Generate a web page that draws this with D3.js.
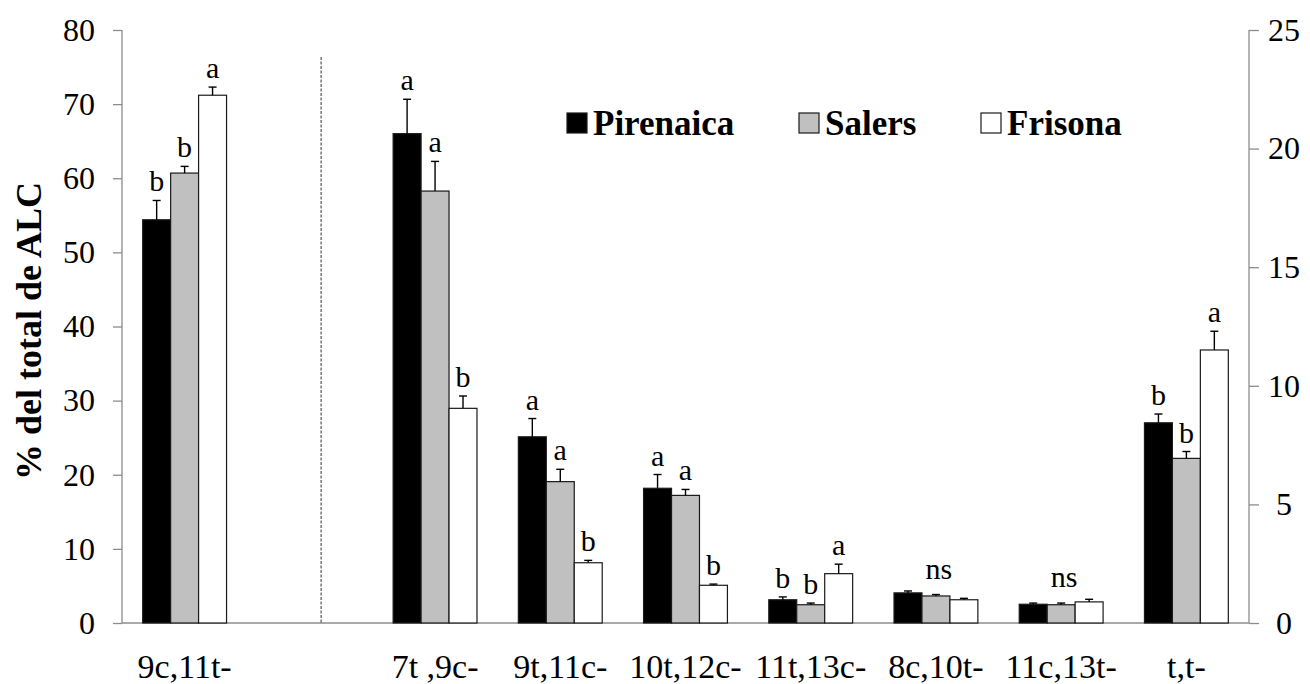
<!DOCTYPE html>
<html>
<head>
<meta charset="utf-8">
<script src="https://cdn.jsdelivr.net/npm/d3@7"></script>
<style>
  html, body { margin: 0; padding: 0; background: #fff; }
  svg, svg text { font-family: "Liberation Serif", "Tinos", "Times New Roman", "DejaVu Serif", "Noto Serif", serif !important; }
</style>
</head>
<body>
<svg id="chart" width="1310" height="684"></svg>
<script>
// ---- Data ----
const categories = ["9c,11t-", "7t ,9c-", "9t,11c-", "10t,12c-", "11t,13c-", "8c,10t-", "11c,13t-", "t,t-"];
const leftAxisCategories = ["9c,11t-"];
const seriesNames = ["Pirenaica", "Salers", "Frisona"];
const pirenaica    = [54.4, 20.63, 7.85, 5.68, 0.98, 1.27, 0.79, 8.44];
const pirenaicaErr = [2.6, 1.45, 0.77, 0.58, 0.12, 0.08, 0.05, 0.37];
const salers       = [60.7, 18.21, 5.96, 5.38, 0.77, 1.14, 0.77, 6.94];
const salersErr    = [0.9, 1.25, 0.52, 0.25, 0.07, 0.06, 0.07, 0.29];
const frisona      = [71.2, 9.05, 2.54, 1.59, 2.08, 0.98, 0.89, 11.51];
const frisonaErr   = [1.1, 0.52, 0.10, 0.05, 0.40, 0.06, 0.11, 0.79];
const pirenaicaLetters = ["b", "a", "a", "a", "b", "", "", "b"];
const salersLetters    = ["b", "a", "a", "a", "b", "", "", "b"];
const frisonaLetters   = ["a", "b", "b", "b", "a", "", "", "a"];
const groupLetters     = ["", "", "", "", "", "ns", "ns", ""];
const leftTicks = [0, 10, 20, 30, 40, 50, 60, 70, 80];
const rightTicks = [0, 5, 10, 15, 20, 25];
const yTitle = "% del total de ALC";

// ---- Layout ----
const svg = d3.select("#chart");
const xLeft = 122, xRight = 1249, yBottom = 623, yTop = 30;
const GAP = "__gap__";
const slots = [categories[0], GAP, ...categories.slice(1)];

const x0 = d3.scaleBand().domain(slots).range([xLeft, xRight]).paddingInner(0).paddingOuter(0);
const x1 = d3.scaleBand().domain(seriesNames).range([0, x0.bandwidth()]).paddingInner(0).paddingOuter(0.74);
const yL = d3.scaleLinear().domain([0, 80]).range([yBottom, yTop]);
const yR = d3.scaleLinear().domain([0, 25]).range([yBottom, yTop]);
const colors = { Pirenaica: "#000000", Salers: "#c0c0c0", Frisona: "#ffffff" };
const axisColor = "#8c8c8c";

const values = { Pirenaica: pirenaica, Salers: salers, Frisona: frisona };
const errs = { Pirenaica: pirenaicaErr, Salers: salersErr, Frisona: frisonaErr };
const letters = { Pirenaica: pirenaicaLetters, Salers: salersLetters, Frisona: frisonaLetters };

const rows = [];
categories.forEach((c, i) => {
  const y = leftAxisCategories.includes(c) ? yL : yR;
  seriesNames.forEach(s => {
    rows.push({ cat: c, series: s, v: values[s][i], e: errs[s][i], letter: letters[s][i], y });
  });
});

// ---- Axes ----
const leftAxis = svg.append("g").attr("transform", `translate(${xLeft},0)`)
  .call(d3.axisLeft(yL).tickValues(leftTicks).tickSize(9).tickPadding(18).tickFormat(d3.format("d")));
const rightAxis = svg.append("g").attr("transform", `translate(${xRight},0)`)
  .call(d3.axisRight(yR).tickValues(rightTicks).tickSize(10).tickPadding(17).tickFormat(d3.format("d")));
[leftAxis, rightAxis].forEach(g => {
  g.attr("font-family", null);
  g.select(".domain").attr("stroke", axisColor).attr("stroke-width", 1.3)
   .attr("d", `M0,${yTop}V${yBottom}`);
  g.selectAll(".tick line").attr("stroke", axisColor).attr("stroke-width", 1.3);
  g.selectAll(".tick text").attr("fill", "#000").style("font-size", "32px");
});
rightAxis.selectAll(".tick text").attr("text-anchor", "middle").attr("x", 35);

const xAxis = svg.append("g").attr("transform", `translate(0,${yBottom})`)
  .call(d3.axisBottom(x0).tickSize(0).tickPadding(31).tickFormat(d => d === GAP ? "" : d));
xAxis.attr("font-family", null);
xAxis.select(".domain").attr("stroke", axisColor).attr("stroke-width", 1.3)
  .attr("d", `M${xLeft},0H${xRight}`);
xAxis.selectAll(".tick text").attr("fill", "#000").style("font-size", "34px").attr("dy", "0.71em");

// Dashed separator
svg.append("line")
  .attr("x1", x0(GAP) + x0.bandwidth() * 0.59).attr("x2", x0(GAP) + x0.bandwidth() * 0.59)
  .attr("y1", 57).attr("y2", yBottom)
  .attr("stroke", "#333").attr("stroke-width", 1).attr("stroke-dasharray", "3,1.5");

// ---- Bars ----
const gBars = svg.append("g");
gBars.selectAll("rect").data(rows).join("rect")
  .attr("x", d => x0(d.cat) + x1(d.series))
  .attr("width", x1.bandwidth())
  .attr("y", d => d.y(d.v))
  .attr("height", d => d.y(0) - d.y(d.v))
  .attr("fill", d => colors[d.series])
  .attr("stroke", "#1a1a1a").attr("stroke-width", 1.2);

// Error bars (upper only)
const gErr = svg.append("g").attr("stroke", "#000").attr("stroke-width", 1.4);
rows.forEach(d => {
  const cx = x0(d.cat) + x1(d.series) + x1.bandwidth() / 2;
  gErr.append("line").attr("x1", cx).attr("x2", cx).attr("y1", d.y(d.v)).attr("y2", d.y(d.v + d.e));
  gErr.append("line").attr("x1", cx - 4).attr("x2", cx + 4).attr("y1", d.y(d.v + d.e)).attr("y2", d.y(d.v + d.e));
});

// Significance letters
svg.append("g").selectAll("text").data(rows.filter(d => d.letter)).join("text")
  .attr("x", d => x0(d.cat) + x1(d.series) + x1.bandwidth() / 2)
  .attr("y", d => d.y(d.v + d.e) - 9)
  .attr("text-anchor", "middle").style("font-size", "30px").text(d => d.letter);

categories.forEach((c, i) => {
  if (!groupLetters[i]) return;
  const y = leftAxisCategories.includes(c) ? yL : yR;
  const top = d3.max(seriesNames, s => values[s][i] + errs[s][i]);
  svg.append("text")
    .attr("x", x0(c) + x0.bandwidth() / 2 + 3)
    .attr("y", y(top) - 12)
    .attr("text-anchor", "middle").style("font-size", "30px").text(groupLetters[i]);
});

// ---- Legend ----
const legendX = [567, 799, 981];
const legend = svg.append("g");
seriesNames.forEach((s, i) => {
  legend.append("rect").attr("x", legendX[i]).attr("y", 113).attr("width", 20).attr("height", 20)
    .attr("fill", colors[s]).attr("stroke", "#1a1a1a").attr("stroke-width", 1.2);
  legend.append("text").attr("x", legendX[i] + 26).attr("y", 135)
    .style("font-size", "35px").style("font-weight", "bold").text(s);
});

// ---- Y title ----
svg.append("text")
  .attr("transform", `translate(41,331) rotate(-90)`)
  .attr("text-anchor", "middle")
  .style("font-size", "36px").style("font-weight", "bold")
  .text(yTitle);
</script>
</body>
</html>
